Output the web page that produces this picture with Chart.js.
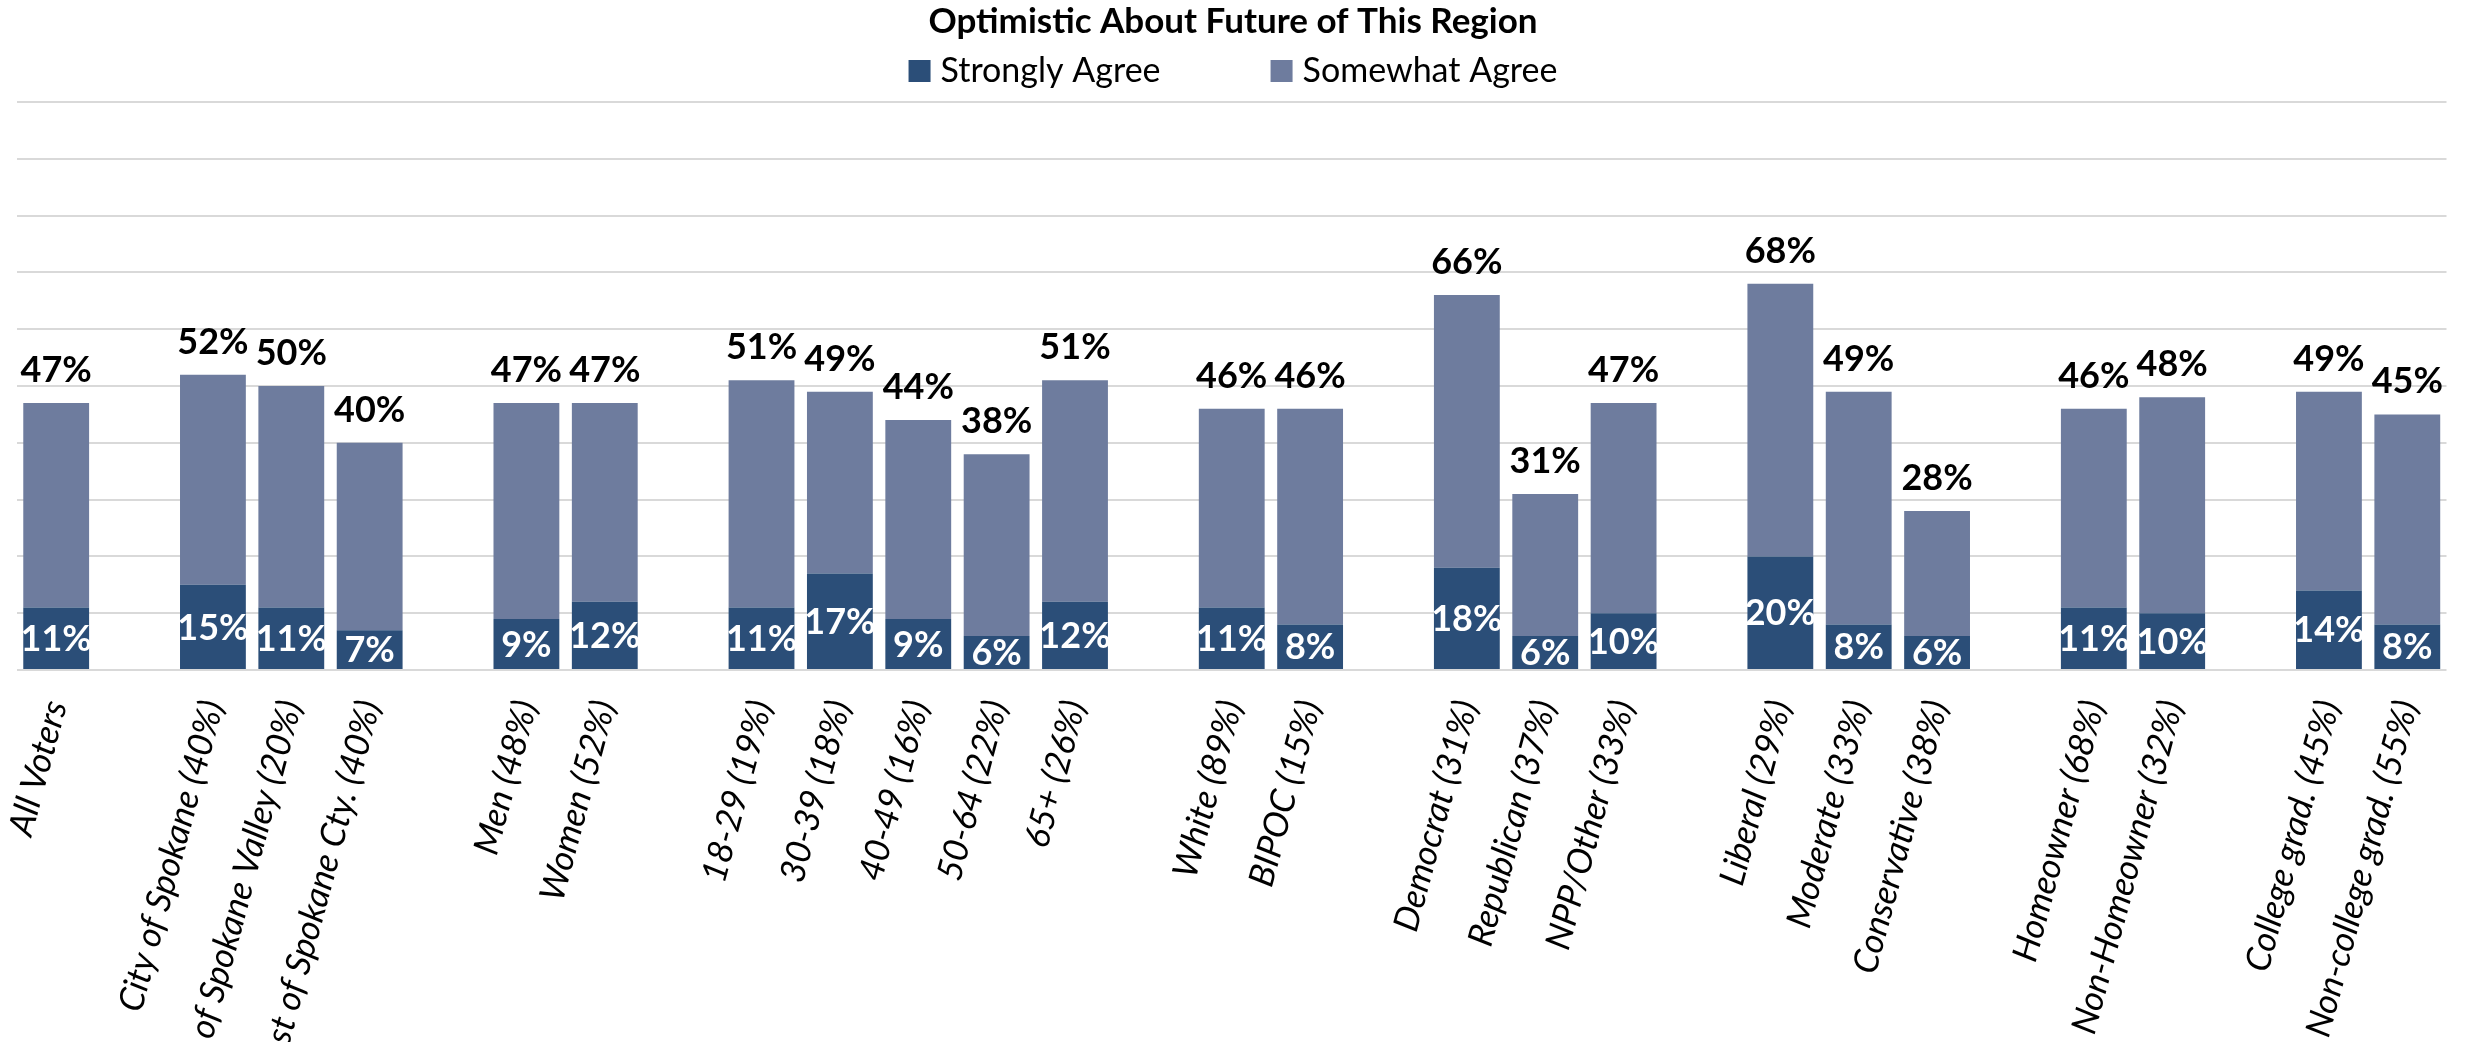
<!DOCTYPE html>
<html>
<head>
<meta charset="utf-8">
<title>Optimistic About Future of This Region</title>
<script src="https://cdn.jsdelivr.net/npm/chart.js@4.4.1/dist/chart.umd.min.js"></script>
<style>
    html, body { margin: 0; padding: 0; background: #ffffff; }
    #wrap { width: 2466px; height: 1042px; position: relative; }
</style>
</head>
<body>
<div id="wrap"><canvas id="optimismChart"></canvas></div>
<script>
// --- 1. Data (empty strings / nulls are the spacer slots between groups) ---
const CATEGORIES = [
    'All Voters', '',
    'City of Spokane (40%)', 'City of Spokane Valley (20%)', 'Rest of Spokane Cty. (40%)', '',
    'Men (48%)', 'Women (52%)', '',
    '18-29 (19%)', '30-39 (18%)', '40-49 (16%)', '50-64 (22%)', '65+ (26%)', '',
    'White (89%)', 'BIPOC (15%)', '',
    'Democrat (31%)', 'Republican (37%)', 'NPP/Other (33%)', '',
    'Liberal (29%)', 'Moderate (33%)', 'Conservative (38%)', '',
    'Homeowner (68%)', 'Non-Homeowner (32%)', '',
    'College grad. (45%)', 'Non-college grad. (55%)'
];

const STRONGLY_AGREE = [11, null, 15, 11, 7, null, 9, 12, null, 11, 17, 9, 6, 12, null, 11, 8, null, 18, 6, 10, null, 20, 8, 6, null, 11, 10, null, 14, 8];
const SOMEWHAT_AGREE = [36, null, 37, 39, 33, null, 38, 35, null, 40, 32, 35, 32, 39, null, 35, 38, null, 48, 25, 37, null, 48, 41, 22, null, 35, 38, null, 35, 37];
const TOTAL_AGREE = [47, null, 52, 50, 40, null, 47, 47, null, 51, 49, 44, 38, 51, null, 46, 46, null, 66, 31, 47, null, 68, 49, 28, null, 46, 48, null, 49, 45];

const Y_TICKS = { min: 0, max: 100, step: 10 };

const COLORS = {
    strong: '#2b4e78',
    somewhat: '#6e7c9e',
    grid: '#d9d9d9',
    text: '#000000',
};

const TITLE_TEXT = 'Optimistic About Future of This Region';

// --- 2. Plugins: title/legend header and value labels ---
const headerPlugin = {
    id: 'header',
    afterDraw(chart) {
        const ctx = chart.ctx;
        const cx = chart.width / 2;
        ctx.save();
        ctx.fillStyle = COLORS.text;
        ctx.textAlign = 'center';
        ctx.textBaseline = 'middle';
        ctx.font = 'bold 35px Lato';
        ctx.fillText(TITLE_TEXT, cx, 22);

        // legend row
        ctx.font = '34px Lato';
        const items = chart.data.datasets.map(ds => ({ text: ds.label, color: ds.backgroundColor }));
        const box = 22, gap = 10, spacing = 110;
        const widths = items.map(it => box + gap + ctx.measureText(it.text).width);
        let x = cx - (widths.reduce((a, b) => a + b, 0) + spacing * (items.length - 1)) / 2;
        ctx.textAlign = 'left';
        items.forEach((it, i) => {
            ctx.fillStyle = it.color;
            ctx.fillRect(x, 71 - box / 2, box, box);
            ctx.fillStyle = COLORS.text;
            ctx.fillText(it.text, x + box + gap, 71);
            x += widths[i] + spacing;
        });
        ctx.restore();
    }
};

const valueLabelPlugin = {
    id: 'valueLabels',
    afterDatasetsDraw(chart) {
        const ctx = chart.ctx;
        const strongMeta = chart.getDatasetMeta(0);
        const topMeta = chart.getDatasetMeta(1);
        ctx.save();
        ctx.font = 'bold 36px Lato';
        ctx.textAlign = 'center';

        // inside the dark segment
        ctx.fillStyle = '#ffffff';
        ctx.textBaseline = 'middle';
        strongMeta.data.forEach((bar, i) => {
            if (STRONGLY_AGREE[i] == null) return;
            ctx.fillText(STRONGLY_AGREE[i] + '%', bar.x, (bar.y + bar.base) / 2 + 1);
        });

        // totals above each stack
        ctx.fillStyle = COLORS.text;
        ctx.textBaseline = 'alphabetic';
        topMeta.data.forEach((bar, i) => {
            if (TOTAL_AGREE[i] == null) return;
            ctx.fillText(TOTAL_AGREE[i] + '%', bar.x, bar.y - 21);
        });
        ctx.restore();
    }
};

// --- 3. Chart ---
new Chart(document.getElementById('optimismChart'), {
    type: 'bar',
    data: {
        labels: CATEGORIES,
        datasets: [
            {
                label: 'Strongly Agree',
                data: STRONGLY_AGREE,
                backgroundColor: COLORS.strong,
                barPercentage: 0.84,
                categoryPercentage: 1.0,
            },
            {
                label: 'Somewhat Agree',
                data: SOMEWHAT_AGREE,
                backgroundColor: COLORS.somewhat,
                barPercentage: 0.84,
                categoryPercentage: 1.0,
            }
        ]
    },
    options: {
        responsive: true,
        maintainAspectRatio: false,
        animation: false,
        layout: { padding: { top: 102, left: 17, right: 8, bottom: 0 } },
        plugins: {
            legend: { display: false },
            title: { display: false },
            tooltip: { enabled: false }
        },
        scales: {
            x: {
                stacked: true,
                grid: { display: false },
                border: { display: false },
                ticks: {
                    autoSkip: false,
                    minRotation: 75,
                    maxRotation: 75,
                    padding: 18,
                    color: COLORS.text,
                    font: { family: 'Lato', size: 35, style: 'italic' }
                },
                afterFit(scale) { scale.height = 372; } // long labels run off the bottom, as in the original
            },
            y: {
                stacked: true,
                min: Y_TICKS.min,
                max: Y_TICKS.max,
                ticks: { display: false, stepSize: Y_TICKS.step },
                grid: { color: COLORS.grid, lineWidth: 2, drawTicks: false },
                border: { display: false },
                afterFit(scale) { scale.width = 0; }
            }
        }
    },
    plugins: [headerPlugin, valueLabelPlugin]
});
</script>
</body>
</html>
